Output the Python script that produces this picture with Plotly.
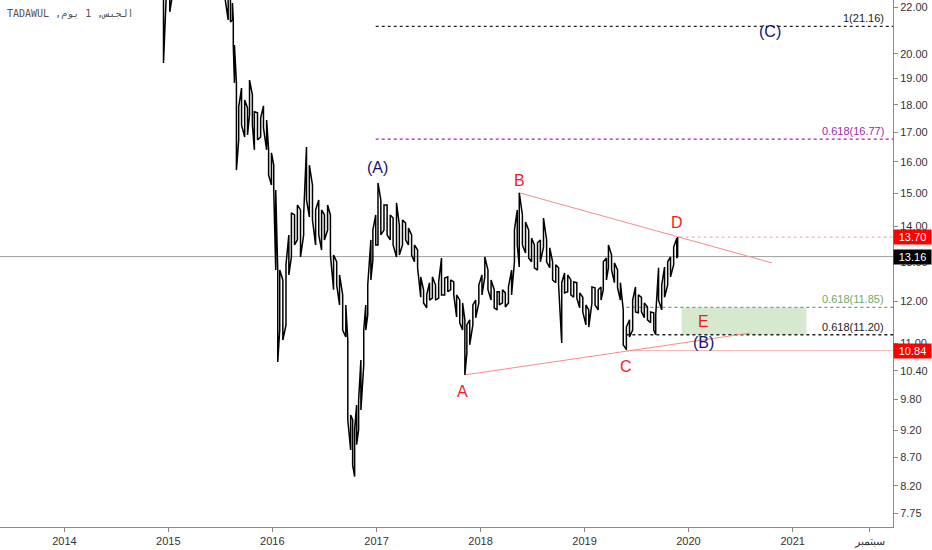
import math
import plotly.graph_objects as go

# Datos (TADAWUL, الجبس, diario) - máximo / mínimo aproximado por periodo
dates = [
    "2014-12-08", "2014-12-15", "2014-12-26",
    "2015-01-06", "2015-01-23", "2015-02-27", "2015-04-02", "2015-05-07", "2015-06-12",
    "2015-07-17", "2015-07-30", "2015-08-07", "2015-08-14", "2015-08-17", "2015-08-21",
    "2015-08-28", "2015-09-05", "2015-09-15", "2015-09-26", "2015-10-06", "2015-10-13",
    "2015-10-23", "2015-10-30", "2015-11-10", "2015-11-21", "2015-12-01", "2015-12-12",
    "2015-12-19", "2015-12-29",
    "2016-01-06", "2016-01-13", "2016-01-20", "2016-01-27", "2016-02-07", "2016-02-18",
    "2016-02-28", "2016-03-08", "2016-03-19", "2016-03-29", "2016-04-09", "2016-04-20",
    "2016-04-30", "2016-05-10", "2016-05-21", "2016-06-01", "2016-06-12", "2016-06-22",
    "2016-07-02", "2016-07-13", "2016-07-23", "2016-08-03", "2016-08-14", "2016-08-24",
    "2016-09-04", "2016-09-15", "2016-09-22", "2016-10-02", "2016-10-09", "2016-10-16",
    "2016-10-23", "2016-10-30", "2016-11-07", "2016-11-17", "2016-11-24", "2016-12-01",
    "2016-12-12", "2016-12-19", "2016-12-29",
    "2017-01-06", "2017-01-16", "2017-01-27", "2017-02-07", "2017-02-18", "2017-02-28",
    "2017-03-12", "2017-03-22", "2017-04-02", "2017-04-13", "2017-04-23", "2017-05-04",
    "2017-05-14", "2017-05-25", "2017-06-05", "2017-06-15", "2017-06-26", "2017-07-06",
    "2017-07-16", "2017-07-27", "2017-08-07", "2017-08-17", "2017-08-28", "2017-09-08",
    "2017-09-18", "2017-09-29", "2017-10-09", "2017-10-20", "2017-10-30", "2017-11-07",
    "2017-11-14", "2017-11-24", "2017-12-05", "2017-12-15", "2017-12-26",
    "2018-01-06", "2018-01-16", "2018-01-27", "2018-02-07", "2018-02-18", "2018-02-28",
    "2018-03-08", "2018-03-19", "2018-03-29", "2018-04-09", "2018-04-20", "2018-04-30",
    "2018-05-10", "2018-05-17", "2018-05-28", "2018-06-08", "2018-06-19", "2018-06-29",
    "2018-07-09", "2018-07-20", "2018-07-30", "2018-08-10", "2018-08-21", "2018-09-01",
    "2018-09-11", "2018-09-22", "2018-10-02", "2018-10-13", "2018-10-23", "2018-11-03",
    "2018-11-14", "2018-11-24", "2018-12-05", "2018-12-15", "2018-12-26",
    "2019-01-06", "2019-01-16", "2019-01-27", "2019-02-07", "2019-02-18", "2019-02-28",
    "2019-03-08", "2019-03-19", "2019-03-26", "2019-04-06", "2019-04-16", "2019-04-27",
    "2019-05-07", "2019-05-17", "2019-05-28", "2019-06-08", "2019-06-19", "2019-06-29",
    "2019-07-09", "2019-07-20", "2019-07-30", "2019-08-10", "2019-08-21", "2019-09-01",
    "2019-09-08", "2019-09-18", "2019-09-29", "2019-10-09", "2019-10-20", "2019-10-30",
    "2019-11-10", "2019-11-21", "2019-11-24",
]
highs = [
    25.0, 24.5, 25.5,
    24.0, 25.0, 26.0, 26.5, 25.8, 25.0,
    24.0, 23.0, 22.6, 22.20, 21.44, 20.36,
    18.83, 17.92, 18.63, 18.18, 17.88, 18.94,
    18.37, 17.74, 17.70, 17.51, 17.96, 17.44,
    16.40, 16.30,
    15.89, 15.10, 12.80, 12.80, 12.54, 12.94,
    13.76, 14.40, 14.34, 14.64, 14.49, 14.34,
    16.50, 15.89, 15.25, 14.49, 14.79, 14.49,
    14.34, 14.64, 14.34, 13.20, 13.02, 12.67,
    12.16, 11.91, 11.08, 9.49, 9.40, 9.21,
    9.69, 9.79, 10.63, 11.31, 11.91, 12.41,
    13.62, 13.90, 14.34,
    15.32, 14.79, 14.64, 14.64, 14.34, 14.25,
    14.70, 14.04, 14.19, 14.10, 13.96, 13.76,
    13.48, 13.34, 12.62, 12.29, 12.16, 12.47,
    12.62, 12.41, 12.49, 13.12, 12.59, 12.62,
    12.54, 12.49, 12.16, 12.03, 11.96, 11.55,
    11.43, 11.55, 11.91, 12.03, 12.41,
    12.67, 13.15, 12.80, 12.54, 12.29, 12.24,
    12.24, 12.29, 12.21, 12.36, 12.80, 13.90,
    14.49, 15.01, 14.34, 14.13, 13.90, 13.67,
    13.48, 13.54, 13.62, 14.25, 13.62, 13.40,
    13.02, 12.94, 12.86, 12.47, 12.72, 12.67,
    12.54, 12.49, 12.47, 12.21, 12.10,
    11.91, 11.79, 12.36, 12.34, 12.29, 12.36,
    13.02, 13.12, 13.48, 13.20, 12.99, 12.80,
    12.47, 11.79, 11.38, 11.55, 12.03, 12.36,
    12.16, 12.10, 11.96, 11.86, 11.74, 11.72,
    11.67, 12.86, 12.41, 12.88, 13.02, 13.15,
    13.42, 13.67, 13.70,
]
lows = [
    23.5, 19.62, 23.0,
    21.80, 23.2, 23.8, 24.0, 23.5, 23.0,
    22.6, 21.44, 21.35, 21.44, 20.36, 18.83,
    15.73, 16.74, 17.26, 16.84, 16.91, 17.62,
    17.26, 16.40, 16.74, 16.84, 17.16, 16.40,
    15.57, 15.25,
    15.10, 12.80, 10.59, 11.31, 11.08, 11.43,
    12.67, 13.15, 13.48, 13.62, 13.15, 13.76,
    14.79, 14.28, 14.19, 13.48, 13.76, 13.34,
    13.62, 13.90, 13.20, 12.29, 12.41, 11.91,
    11.31, 11.15, 9.40, 8.83, 8.56, 8.36,
    8.93, 9.21, 9.59, 10.52, 11.31, 11.67,
    12.54, 13.07, 13.48,
    13.48, 13.76, 13.90, 13.76, 13.62, 13.48,
    13.15, 13.20, 13.48, 13.62, 13.48, 13.20,
    13.02, 12.86, 12.10, 11.96, 11.84, 12.03,
    12.08, 12.03, 12.08, 12.16, 12.16, 12.24,
    12.29, 12.16, 11.62, 11.48, 11.31, 10.31,
    10.79, 10.97, 11.43, 11.60, 11.96,
    12.16, 12.62, 12.29, 12.03, 11.84, 11.79,
    11.91, 11.96, 11.86, 11.96, 12.16, 13.02,
    13.48, 12.88, 13.48, 13.26, 13.12, 13.02,
    12.86, 12.80, 13.02, 13.42, 13.02, 12.86,
    12.54, 12.47, 12.41, 11.01, 12.21, 12.24,
    12.16, 12.10, 12.08, 11.84, 11.74,
    11.43, 11.38, 11.96, 11.91, 11.79, 12.03,
    12.29, 12.54, 12.86, 12.80, 12.47, 12.34,
    12.03, 10.97, 10.86, 11.15, 11.31, 11.74,
    11.72, 11.74, 11.60, 11.55, 11.48, 11.31,
    11.20, 12.03, 11.79, 12.10, 12.41, 12.62,
    12.94, 13.12, 13.16,
]

last_price = 13.16
d_price = 13.70
c_price = 10.84

# Niveles de Fibonacci
fib_levels = [21.16, 16.77, 11.85, 11.20]
fib_labels = ["1(21.16)", "0.618(16.77)", "0.618(11.85)", "0.618(11.20)"]
fib_colors = ["#222222", "#9c27b0", "#72a866", "#222222"]
fib_starts = ["2016-12-29", "2016-12-29", "2019-05-28", "2019-05-28"]

# Triángulo ABCDE
upper_line = (["2018-05-17", "2020-10-20"], [15.01, 12.99])
lower_line = (["2017-11-07", "2020-08-04"], [10.31, 11.24])
zone_x = ["2019-12-08", "2021-02-18"]

# Etiquetas de ondas
wave_text = ["(A)", "B", "A", "C", "D", "E", "(B)", "(C)"]
wave_dates = ["2017-01-06", "2018-05-17", "2017-10-30", "2019-05-28",
              "2019-11-21", "2020-02-24", "2020-02-24", "2020-10-13"]
wave_prices = [15.80, 15.41, 9.96, 10.50, 14.13, 11.50, 11.03, 20.92]
wave_colors = ["#14146e", "#f01e1e", "#f01e1e", "#f01e1e",
               "#f01e1e", "#f01e1e", "#14146e", "#14146e"]

# Ejes
x_start, x_end = "2013-05-20", "2021-12-19"
x_ticks = ["2014-01-01", "2015-01-01", "2016-01-01", "2017-01-01", "2018-01-01",
           "2019-01-01", "2020-01-01", "2021-01-01", "2021-09-28"]
x_labels = ["2014", "2015", "2016", "2017", "2018", "2019", "2020", "2021", "سبتمبر"]
y_ticks = [7.75, 8.20, 8.70, 9.20, 9.80, 10.40, 11.00, 12.00, 13.00, 14.00,
           15.00, 16.00, 17.00, 18.00, 19.00, 20.00, 22.00]
y_min, y_max = 7.534, 22.34

fig = go.Figure()

# zona verde
fig.add_trace(go.Scatter(
    x=[zone_x[0], zone_x[1], zone_x[1], zone_x[0], zone_x[0]],
    y=[fib_levels[2], fib_levels[2], fib_levels[3], fib_levels[3], fib_levels[2]],
    fill="toself", fillcolor="#d6e9cf", line=dict(width=0), mode="lines",
    hoverinfo="skip", showlegend=False))

# líneas horizontales
fig.add_trace(go.Scatter(x=[x_start, x_end], y=[last_price, last_price], mode="lines",
                         line=dict(color="#a0a0a0", width=1), showlegend=False))
fig.add_trace(go.Scatter(x=["2019-12-01", x_end], y=[d_price, d_price], mode="lines",
                         line=dict(color="#f59a9a", width=1, dash="3px,3px"), showlegend=False))
fig.add_trace(go.Scatter(x=["2019-05-28", x_end], y=[c_price, c_price], mode="lines",
                         line=dict(color="#f7b3b3", width=1), showlegend=False))
for lvl, col, st in zip(fib_levels, fib_colors, fib_starts):
    fig.add_trace(go.Scatter(x=[st, x_end], y=[lvl, lvl], mode="lines",
                             line=dict(color=col, width=1.3, dash="dot"), showlegend=False))

# triángulo
for ln in (upper_line, lower_line):
    fig.add_trace(go.Scatter(x=ln[0], y=ln[1], mode="lines",
                             line=dict(color="#f58c8c", width=1), showlegend=False))

# precio: zigzag entre máximos y mínimos
px_x, px_y = [], []
for i, (d, h, l) in enumerate(zip(dates, highs, lows)):
    px_x += [d, d]
    px_y += [l, h] if i % 2 == 0 else [h, l]
fig.add_trace(go.Scatter(x=px_x, y=px_y, mode="lines",
                         line=dict(color="black", width=1.5), showlegend=False))

annotations = []
# textos de Fibonacci
for lvl, lab, col in zip(fib_levels, fib_labels, fib_colors):
    annotations.append(dict(xref="paper", x=0.992, xanchor="right", y=math.log10(lvl),
                            yanchor="bottom", text=lab, showarrow=False,
                            font=dict(family="Liberation Sans", size=11, color=col)))
# ondas
for t, d, p, c in zip(wave_text, wave_dates, wave_prices, wave_colors):
    annotations.append(dict(x=d, y=math.log10(p), text=t, showarrow=False,
                            font=dict(family="Liberation Sans", size=16, color=c)))
# etiquetas de precio en el eje
for p, bg in ((d_price, "#ff0000"), (last_price, "#000000"), (c_price, "#ff0000")):
    annotations.append(dict(xref="paper", x=1.0, xanchor="left", y=math.log10(p),
                            yanchor="middle", text=f"{p:.2f}", showarrow=False,
                            bgcolor=bg, width=37, height=14, borderpad=0,
                            font=dict(family="Liberation Sans", size=11, color="white")))
# título
annotations.append(dict(xref="paper", yref="paper", x=0.006, y=0.974, xanchor="left",
                        yanchor="middle", text="TADAWUL ,الجبس, 1 يوم", showarrow=False,
                        font=dict(family="DejaVu Sans Mono", size=10, color="#555555")))

fig.update_layout(
    width=932, height=550,
    margin=dict(l=0, r=39, t=0, b=23),
    plot_bgcolor="white", paper_bgcolor="white",
    showlegend=False,
    annotations=annotations,
    xaxis=dict(type="date", range=[x_start, x_end], tickvals=x_ticks, ticktext=x_labels,
               showgrid=False, zeroline=False, showline=True, linecolor="#8a8a8a",
               ticks="outside", ticklen=4, tickcolor="#8a8a8a",
               tickfont=dict(family="Liberation Sans", size=11, color="#333333")),
    yaxis=dict(type="log", side="right", range=[math.log10(y_min), math.log10(y_max)],
               tickvals=y_ticks, ticktext=[f"{v:.2f}" for v in y_ticks],
               showgrid=False, zeroline=False, showline=True, linecolor="#8a8a8a",
               ticks="outside", ticklen=4, tickcolor="#8a8a8a",
               tickfont=dict(family="Liberation Sans", size=11, color="#333333")),
)

# sin margen del navegador y sin barra de herramientas
fig.write_html("out.html", config={"displayModeBar": False},
               post_script="document.body.style.margin='0';")
